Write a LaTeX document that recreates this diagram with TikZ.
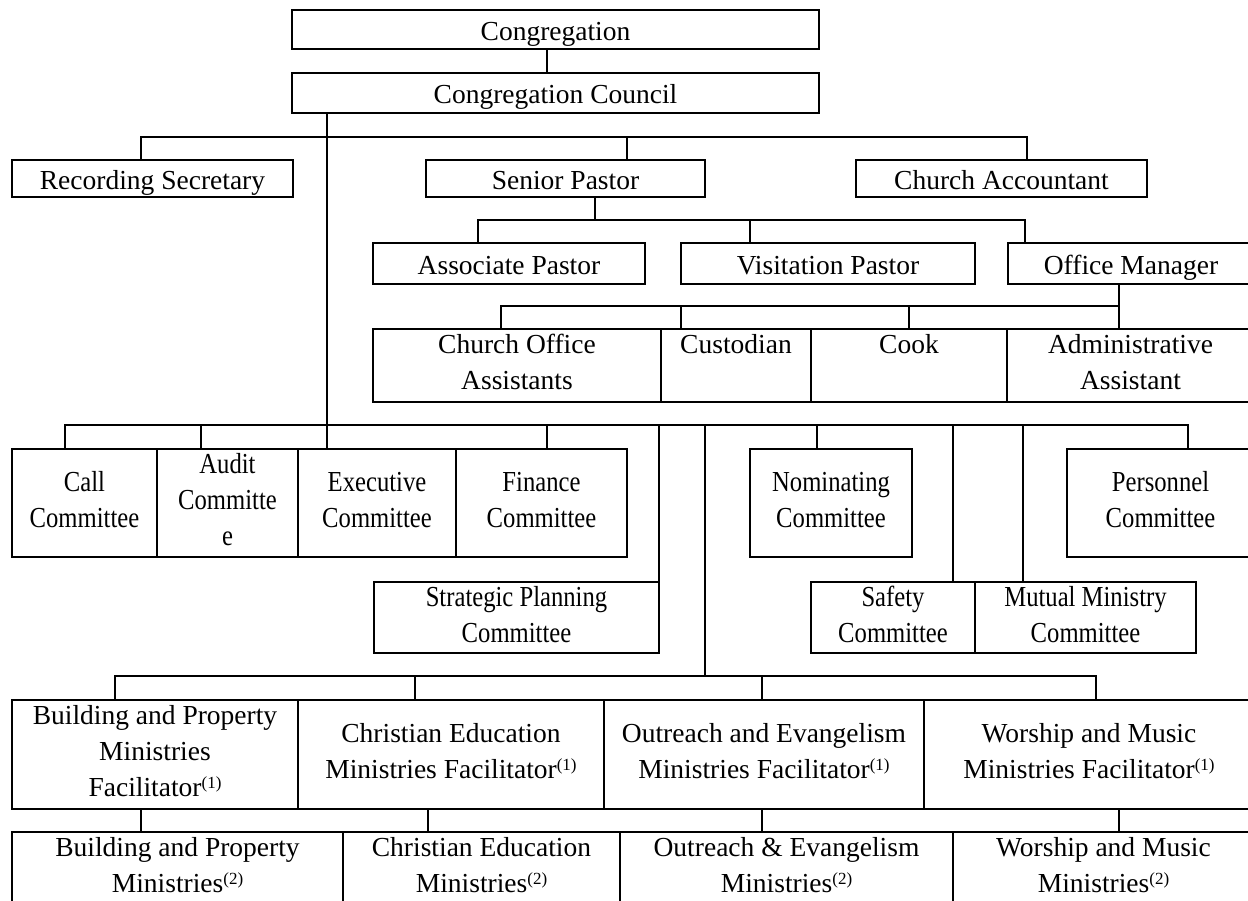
\documentclass[tikz,border=0pt]{standalone}
\usepackage{fontspec}
\setmainfont{Liberation Serif}
\newfontfamily\cfont[FakeStretch=0.85]{Liberation Serif}
\newcommand\supn[1]{\raisebox{8pt}{\fontsize{17}{17}\selectfont(#1)}}
\newcommand\lnstrut{\rule[-7pt]{0pt}{36pt}}
\newcommand\bx[7][box]{\node[#1, minimum width={(#5)-(#3)}, minimum height={(#6)-(#4)}] (#2) at ({((#3)+(#5))/2},{((#4)+(#6))/2}) {#7};}
\begin{document}
\begin{tikzpicture}[x=1pt,y=-1pt,
  box/.style={draw, line width=1.3pt, inner sep=0pt, align=center,
    font=\fontsize{27.5}{36}\selectfont,
    execute at begin node=\lnstrut, execute at end node=\lnstrut},
  cbox/.style={box, font=\cfont\fontsize{29}{36}\selectfont},
  link/.style={line width=1.3pt}]
\useasboundingbox (0,0) rectangle (1248,901);
\clip (0,0) rectangle (1248,901);
\fill[white] (0,0) rectangle (1248,901);

% boxes
\bx{cong}{292}{10}{819}{49}{Congregation}
\bx{council}{292}{73}{819}{113}{Congregation Council}
\bx{recsec}{12}{160}{293}{197}{Recording Secretary}
\bx{senior}{426}{160}{705}{197}{Senior Pastor}
\bx{acct}{856}{160}{1147}{197}{Church Accountant}
\bx{assoc}{373}{243}{645}{284}{Associate Pastor}
\bx{visit}{681}{243}{975}{284}{Visitation Pastor}
\bx{office}{1008}{243}{1254}{284}{Office Manager}
\bx{coa}{373}{329}{661}{402}{Church Office\\Assistants}
\bx{cust}{661}{329}{811}{402}{Custodian\\\mbox{}}
\bx{cook}{811}{329}{1007}{402}{Cook\\\mbox{}}
\bx{admin}{1007}{329}{1254}{402}{Administrative\\Assistant}

\bx[cbox]{call}{12}{449}{157}{557}{Call\\Committee}
\bx[cbox]{audit}{157}{449}{298}{557}{Audit\\Committe\\e}
\bx[cbox]{exec}{298}{449}{456}{557}{Executive\\Committee}
\bx[cbox]{fin}{456}{449}{627}{557}{Finance\\Committee}
\bx[cbox]{nom}{750}{449}{912}{557}{Nominating\\Committee}
\bx[cbox]{pers}{1067}{449}{1254}{557}{Personnel\\Committee}
\bx[cbox]{strat}{374}{582}{659}{653}{Strategic Planning\\Committee}
\bx[cbox]{safety}{811}{582}{975}{653}{Safety\\Committee}
\bx[cbox]{mutual}{975}{582}{1196}{653}{Mutual Ministry\\Committee}

\bx{bpf}{12}{700}{298}{809}{Building and Property\\Ministries\\Facilitator\supn{1}}
\bx{cef}{298}{700}{604}{809}{Christian Education\\Ministries Facilitator\supn{1}}
\bx{oef}{604}{700}{924}{809}{Outreach and Evangelism\\Ministries Facilitator\supn{1}}
\bx{wmf}{924}{700}{1254}{809}{Worship and Music\\Ministries Facilitator\supn{1}}
\bx{bpm}{12}{832}{343}{904}{Building and Property\\Ministries\supn{2}}
\bx{cem}{343}{832}{620}{904}{Christian Education\\Ministries\supn{2}}
\bx{oem}{620}{832}{953}{904}{Outreach \& Evangelism\\Ministries\supn{2}}
\bx{wmm}{953}{832}{1254}{904}{Worship and Music\\Ministries\supn{2}}

% helper coordinates
\foreach \v in {65,115,141,201,327,415,428,478,501,547,595,627,659,681,705,750,762,817,909,953,1023,1025,1027,1096,1119,1188}
  {\coordinate (x\v) at (\v,0);}
\coordinate (b1) at (0,137);
\coordinate (b2) at (0,220);
\coordinate (b3) at (0,306);
\coordinate (b4) at (0,425);
\coordinate (b5) at (0,676);

% connectors
\draw[link] (cong.south -| x547) -- (council.north -| x547);
\draw[link] (council.south -| x327) -- (exec.north -| x327);
\draw[link] (recsec.north -| x141) -- (b1 -| x141) -- (b1 -| x1027) -- (acct.north -| x1027);
\draw[link] (b1 -| x627) -- (senior.north -| x627);
\draw[link] (senior.south -| x595) -- (b2 -| x595);
\draw[link] (assoc.north -| x478) -- (b2 -| x478) -- (b2 -| x1025) -- (office.north -| x1025);
\draw[link] (b2 -| x750) -- (visit.north -| x750);
\draw[link] (office.south -| x1119) -- (admin.north -| x1119);
\draw[link] (coa.north -| x501) -- (b3 -| x501) -- (b3 -| x1119);
\draw[link] (b3 -| x681) -- (cust.north -| x681);
\draw[link] (b3 -| x909) -- (cook.north -| x909);
\draw[link] (call.north -| x65) -- (b4 -| x65) -- (b4 -| x1188) -- (pers.north -| x1188);
\draw[link] (b4 -| x201) -- (audit.north -| x201);
\draw[link] (b4 -| x547) -- (fin.north -| x547);
\draw[link] (b4 -| x659) -- (strat.north -| x659);
\draw[link] (b4 -| x705) -- (b5 -| x705);
\draw[link] (b4 -| x817) -- (nom.north -| x817);
\draw[link] (b4 -| x953) -- (safety.north -| x953);
\draw[link] (b4 -| x1023) -- (mutual.north -| x1023);
\draw[link] (bpf.north -| x115) -- (b5 -| x115) -- (b5 -| x1096) -- (wmf.north -| x1096);
\draw[link] (b5 -| x415) -- (cef.north -| x415);
\draw[link] (b5 -| x762) -- (oef.north -| x762);
\draw[link] (bpf.south -| x141) -- (bpm.north -| x141);
\draw[link] (cef.south -| x428) -- (cem.north -| x428);
\draw[link] (oef.south -| x762) -- (oem.north -| x762);
\draw[link] (wmf.south -| x1119) -- (wmm.north -| x1119);
\end{tikzpicture}
\end{document}
